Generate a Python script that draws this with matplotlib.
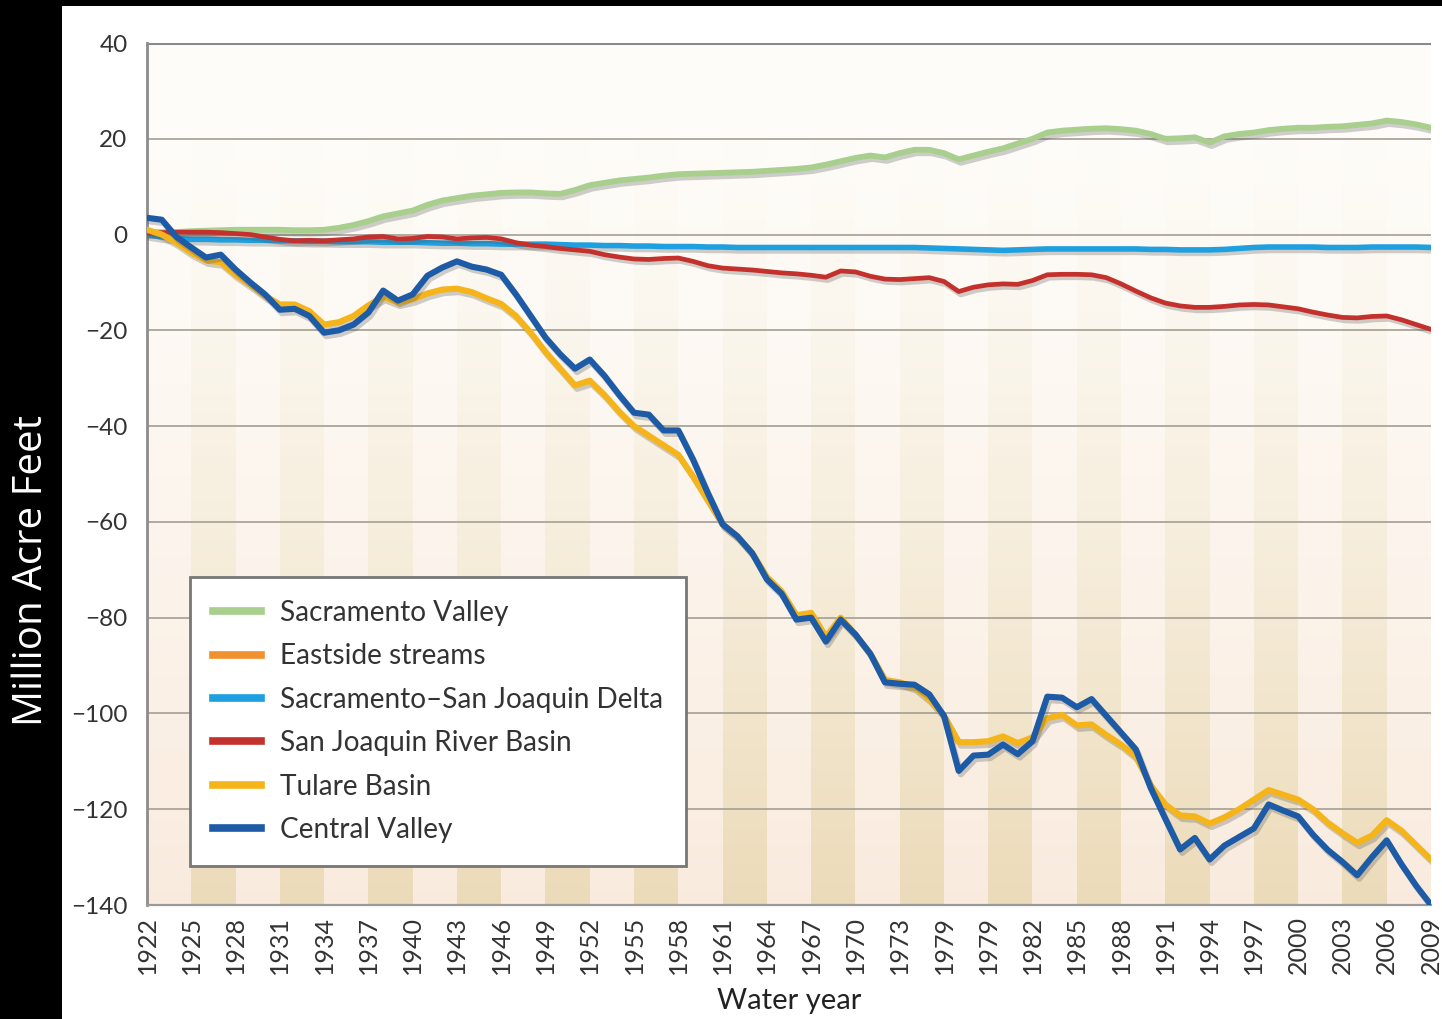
import numpy as np
import matplotlib
matplotlib.use("Agg")
import matplotlib.pyplot as plt
import matplotlib.patheffects as pe
from matplotlib.patches import Rectangle
from matplotlib.lines import Line2D

# ---------------- data ----------------
years = list(range(1922, 2010))

sacramento_valley = [
    0.5, 0.5, 0.5, 0.7, 0.8, 0.9, 1.0, 1.0, 1.0, 1.0,
    0.9, 0.9, 1.0, 1.4, 2.0, 2.8, 3.8, 4.4, 5.0, 6.2,
    7.1, 7.6, 8.1, 8.4, 8.7, 8.8, 8.8, 8.6, 8.5, 9.3,
    10.3, 10.8, 11.3, 11.6, 11.9, 12.3, 12.6, 12.7, 12.8, 12.9,
    13.0, 13.1, 13.3, 13.5, 13.7, 14.0, 14.6, 15.3, 16.0, 16.5,
    16.1, 17.0, 17.7, 17.7, 17.0, 15.7, 16.5, 17.3, 18.0, 19.0,
    20.0, 21.3, 21.7, 21.9, 22.1, 22.2, 22.0, 21.7, 21.0, 20.0,
    20.1, 20.3, 19.2, 20.5, 21.0, 21.3, 21.8, 22.1, 22.3, 22.3,
    22.5, 22.6, 22.9, 23.2, 23.8, 23.5, 23.0, 22.3,
]

eastside_streams = [
    0.0, -0.5, -0.8, -1.0, -1.0, -1.1, -1.1, -1.2, -1.2, -1.3,
    -1.3, -1.4, -1.4, -1.5, -1.5, -1.5, -1.6, -1.6, -1.6, -1.7,
    -1.8, -1.8, -1.9, -1.9, -2.0, -2.0, -2.0, -2.0, -2.1, -2.2,
    -2.2, -2.3, -2.3, -2.4, -2.4, -2.5, -2.5, -2.5, -2.6, -2.6,
    -2.7, -2.7, -2.7, -2.7, -2.7, -2.7, -2.7, -2.7, -2.7, -2.7,
    -2.7, -2.7, -2.7, -2.8, -2.9, -3.0, -3.1, -3.2, -3.3, -3.2,
    -3.1, -3.0, -3.0, -3.0, -3.0, -3.0, -3.0, -3.0, -3.1, -3.1,
    -3.2, -3.2, -3.2, -3.1, -2.9, -2.7, -2.6, -2.6, -2.6, -2.6,
    -2.7, -2.7, -2.7, -2.6, -2.6, -2.6, -2.6, -2.7,
]

delta = [
    0.0, -0.5, -0.8, -1.0, -1.0, -1.1, -1.1, -1.2, -1.2, -1.3,
    -1.3, -1.4, -1.4, -1.5, -1.5, -1.5, -1.6, -1.6, -1.6, -1.7,
    -1.8, -1.8, -1.9, -1.9, -2.0, -2.0, -2.0, -2.0, -2.1, -2.2,
    -2.2, -2.3, -2.3, -2.4, -2.4, -2.5, -2.5, -2.5, -2.6, -2.6,
    -2.7, -2.7, -2.7, -2.7, -2.7, -2.7, -2.7, -2.7, -2.7, -2.7,
    -2.7, -2.7, -2.7, -2.8, -2.9, -3.0, -3.1, -3.2, -3.3, -3.2,
    -3.1, -3.0, -3.0, -3.0, -3.0, -3.0, -3.0, -3.0, -3.1, -3.1,
    -3.2, -3.2, -3.2, -3.1, -2.9, -2.7, -2.6, -2.6, -2.6, -2.6,
    -2.7, -2.7, -2.7, -2.6, -2.6, -2.6, -2.6, -2.7,
]

san_joaquin = [
    0.3, 0.4, 0.5, 0.5, 0.5, 0.4, 0.2, 0.0, -0.5, -1.0,
    -1.3, -1.2, -1.3, -1.1, -0.9, -0.5, -0.4, -0.9, -0.8, -0.4,
    -0.5, -0.9, -0.7, -0.6, -0.9, -1.7, -2.2, -2.5, -2.9, -3.2,
    -3.5, -4.2, -4.7, -5.1, -5.2, -5.0, -4.9, -5.6, -6.5, -7.0,
    -7.2, -7.4, -7.7, -8.0, -8.2, -8.5, -8.9, -7.6, -7.8, -8.7,
    -9.3, -9.4, -9.2, -9.0, -9.8, -11.9, -11.0, -10.5, -10.3, -10.4,
    -9.6, -8.4, -8.3, -8.3, -8.4, -9.0, -10.3, -11.8, -13.2, -14.3,
    -14.9, -15.2, -15.2, -15.0, -14.7, -14.6, -14.7, -15.1, -15.5, -16.2,
    -16.8, -17.3, -17.4, -17.1, -17.0, -17.8, -18.8, -19.8,
]

tulare = [
    1.0, 0.0, -1.7, -3.8, -5.4, -5.8, -8.4, -10.5, -12.8, -14.6,
    -14.6, -16.0, -18.8, -18.3, -17.0, -14.8, -13.0, -14.2, -13.5, -12.3,
    -11.5, -11.3, -12.0, -13.3, -14.5, -17.0, -20.5, -24.5, -28.0, -31.5,
    -30.5, -33.5, -37.0, -40.0, -42.0, -44.0, -46.0, -50.5, -55.5, -60.5,
    -63.0, -66.5, -71.5, -74.5, -79.5, -79.0, -84.0, -80.0, -83.5, -87.5,
    -93.0, -93.5, -94.5, -97.0, -100.5, -106.0, -106.0, -105.8, -104.8, -106.2,
    -105.0, -101.0, -100.3, -102.5, -102.3, -104.5, -106.5, -109.0, -115.0, -119.0,
    -121.3, -121.5, -123.0, -121.7, -120.0, -118.0, -116.0, -117.0, -118.0, -120.0,
    -122.8, -125.0, -127.0, -125.5, -122.3, -124.5, -127.5, -130.5,
]

central_valley = [
    3.5, 3.1, -0.5, -2.7, -4.8, -4.2, -7.3, -10.0, -12.5, -15.7,
    -15.5, -17.0, -20.5, -20.0, -18.8, -16.3, -11.7, -13.8, -12.5, -8.6,
    -6.9, -5.6, -6.7, -7.3, -8.4, -12.5, -17.0, -21.5, -25.0, -28.0,
    -26.1, -29.5, -33.5, -37.2, -37.6, -40.9, -40.9, -47.0, -54.0, -60.5,
    -63.0, -66.5, -72.0, -75.0, -80.4, -80.0, -85.0, -80.4, -83.5, -87.5,
    -93.5, -93.8, -94.0, -96.0, -100.5, -112.0, -108.8, -108.6, -106.5, -108.5,
    -105.8, -96.5, -96.7, -98.7, -97.0, -100.5, -104.0, -107.5, -115.5, -122.0,
    -128.4, -126.0, -130.5, -127.6, -125.8, -124.0, -119.0, -120.3, -121.5, -125.3,
    -128.5, -131.0, -133.8, -130.0, -126.5, -131.5, -136.0, -140.0,
]

series_names = ["Sacramento Valley", "Eastside streams", "Sacramento\u2013San Joaquin Delta",
                "San Joaquin River Basin", "Tulare Basin", "Central Valley"]
series_colors = ["#a8cf8e", "#f0922e", "#1d9fe0", "#c4302b", "#f5b51a", "#1e5ba6"]
series_widths = [4.2, 2.5, 4.0, 3.4, 4.4, 4.4]

tick_years = list(range(1922, 2010, 3))
tick_labels = ["1922", "1925", "1928", "1931", "1934", "1937", "1940", "1943", "1946",
               "1949", "1952", "1955", "1958", "1961", "1964", "1967", "1970", "1973",
               "1979", "1979", "1982", "1985", "1988", "1991", "1994", "1997", "2000",
               "2003", "2006", "2009"]
y_ticks = [40, 20, 0, -20, -40, -60, -80, -100, -120, -140]

# ---------------- figure ----------------
plt.rcParams['font.family'] = ['Lato', 'DejaVu Sans']
W, H = 1442, 1019
fig = plt.figure(figsize=(W / 100, H / 100), dpi=100, facecolor="white")

# black framing bands
fig.patches.append(Rectangle((0, 0), 62 / W, 1, transform=fig.transFigure,
                             facecolor="black", edgecolor="none", zorder=0))
fig.patches.append(Rectangle((0, 1 - 6 / H), 1, 6 / H, transform=fig.transFigure,
                             facecolor="black", edgecolor="none", zorder=0))

ax = fig.add_axes([147 / W, 1 - 905 / H, (1431 - 147) / W, (905 - 43) / H])
ax.set_xlim(1922, 2009)
ax.set_ylim(-140, 40)
ax.set_facecolor("#fefcf8")

# background stripes (3-year bands, fading toward the top)
nrows = 300
tan = np.array([0.925, 0.858, 0.725])
pink = np.array([0.978, 0.920, 0.868])
base = np.array([0.997, 0.990, 0.975])
ncols = years[-1] - years[0]
img = np.zeros((nrows, ncols, 3))
t = np.linspace(0, 1, nrows)[:, None]  # 0 top, 1 bottom
alpha = np.clip((t - 0.08) / 0.92, 0, 1) ** 1.3
for c in range(ncols):
    band = (c // 3) % 2
    col = tan if band == 1 else pink
    img[:, c, :] = base * (1 - alpha) + col * alpha
ax.imshow(img, extent=(years[0], years[-1], -140, 40), aspect="auto",
          interpolation="nearest", zorder=0, origin="upper")

# gridlines
for yv in y_ticks[1:-1]:
    ax.axhline(yv, color="#aaa49a", lw=1.3, zorder=1)
ax.axhline(40, color="#8a8a8a", lw=2.2, zorder=1)

for s in ["top", "right"]:
    ax.spines[s].set_visible(False)
ax.spines["left"].set_color("#8c8c8c")
ax.spines["left"].set_linewidth(2)
ax.spines["bottom"].set_color("#9a9a9a")
ax.spines["bottom"].set_linewidth(1.6)

all_series = [sacramento_valley, eastside_streams, delta, san_joaquin, tulare, central_valley]
shadow = [pe.SimpleLineShadow(offset=(1.5, -2.5), shadow_color="#555555", alpha=0.28), pe.Normal()]
for i, (vals, name, col, lw) in enumerate(zip(all_series, series_names, series_colors, series_widths)):
    ax.plot(years, vals, color=col, lw=lw, label=name, zorder=3 + i,
            solid_joinstyle="round", solid_capstyle="round",
            path_effects=shadow if i != 1 else None)

ax.set_yticks(y_ticks)
ax.set_yticklabels([f"{v}".replace("-", "\u2212") for v in y_ticks])
ax.set_xticks(tick_years)
ax.set_xticklabels(tick_labels, rotation=90)
ax.tick_params(axis="both", length=0, colors="#333333")
ax.tick_params(axis="y", pad=14, labelsize=17.5)
ax.tick_params(axis="x", pad=8, labelsize=18)

ax.set_xlabel("Water year", fontsize=21, color="#222222", labelpad=10)
fig.text(32 / W, 1 - 570 / H, "Million Acre Feet", rotation=90, color="white",
         fontsize=29, ha="center", va="center", family=["Open Sans", "DejaVu Sans"])

leg_handles = [Line2D([0], [0], color=c, lw=5.5) for c in series_colors]
leg = ax.legend(leg_handles, series_names, loc="upper left",
                bbox_to_anchor=(190 / W, 1 - 577 / H), bbox_transform=fig.transFigure,
                borderaxespad=0, fontsize=20.2, frameon=True, fancybox=False,
                handlelength=1.7, handletextpad=0.7, labelspacing=0.62,
                borderpad=0.82, labelcolor="#333333")
leg.get_frame().set_edgecolor("#777777")
leg.get_frame().set_linewidth(2)
leg.get_frame().set_facecolor("white")
leg.get_frame().set_alpha(1)
leg.set_zorder(20)

fig.savefig("out.png", dpi=100, facecolor="white")
